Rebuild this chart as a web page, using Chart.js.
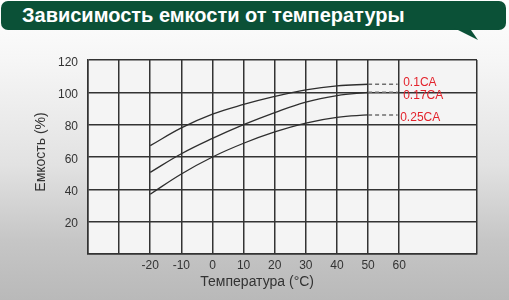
<!DOCTYPE html>
<html>
<head>
<meta charset="utf-8">
<script src="https://cdn.jsdelivr.net/npm/chart.js@4.4.1/dist/chart.umd.min.js"></script>
<style>
  html, body { margin: 0; padding: 0; }
  body {
    width: 509px; height: 300px; overflow: hidden; position: relative;
    background: linear-gradient(to bottom, #ffffff 0%, #f6f6f6 20%, #e2e2e2 55%, #c6c6c6 80%, #b9b9b9 100%);
    font-family: Arial, "Liberation Sans", sans-serif;
  }
  .banner {
    position: absolute; left: 1px; top: 1px; width: 505px; height: 29px;
    background: #0b5137; border-radius: 7px; z-index: 2;
  }
  .banner h1 {
    margin: 0; padding-left: 21px; color: #fff; font-size: 20px; font-weight: bold;
    line-height: 29px; white-space: nowrap;
  }
  .tail {
    position: absolute; left: 454px; top: 28px; width: 24px; height: 12px;
    background: #0b5137; clip-path: polygon(0 0, 65% 0, 100% 100%); z-index: 2;
  }
  #wrap { position: absolute; left: 0; top: 0; width: 509px; height: 300px; }
</style>
</head>
<body>
<div class="banner"><h1>Зависимость емкости от температуры</h1></div>
<div class="tail"></div>
<div id="wrap"><canvas id="myChart" width="509" height="300"></canvas></div>
<script>
// данные
const temps = [-20, -10, 0, 10, 20, 30, 40, 50];
const cap01 = [67, 78, 86.5, 92.5, 97.5, 101.5, 104, 105];
const cap017 = [50.5, 62, 71.5, 80, 87.5, 94, 98, 100];
const cap025 = [37, 49.5, 60, 68.5, 75.5, 81, 84.5, 86];
const extEnd = 59.5; // конец пунктирных хвостов
const seriesLabels = ['0.1CA', '0.17CA', '0.25CA'];
const xTicks = [-40, -30, -20, -10, 0, 10, 20, 30, 40, 50, 60, 85];
const xLabelTicks = [-20, -10, 0, 10, 20, 30, 40, 50, 60];
const yTitle = 'Емкость (%)';
const xTitle = 'Температура (°C)';

const curves = [cap01, cap017, cap025];

const toPoints = (arr) => temps.map((t, i) => ({ x: t, y: arr[i] }));

var datasets = [];
curves.forEach(function(c) {
  datasets.push({
    data: toPoints(c),
    borderColor: '#2e2e2e',
    borderWidth: 1.3,
    pointRadius: 0,
    tension: 0.4,
    fill: false
  });
});
curves.forEach(function(c) {
  var last = c[c.length - 1];
  datasets.push({
    data: [{ x: temps[temps.length - 1], y: last }, { x: extEnd, y: last }],
    borderColor: '#6e6e6e',
    borderWidth: 1.5,
    borderDash: [4, 3],
    pointRadius: 0,
    fill: false
  });
});

// фон области графика, подписи осей и серий
const decor = {
  id: 'decor',
  beforeDraw(chart) {
    const { ctx, chartArea: a } = chart;
    ctx.save();
    ctx.fillStyle = '#f4f4f4';
    ctx.fillRect(a.left, a.top, a.right - a.left, a.bottom - a.top);
    ctx.restore();
  },
  afterDraw(chart) {
    const { ctx, chartArea: a, scales } = chart;
    ctx.save();
    ctx.fillStyle = '#333';
    ctx.font = '14px Arial, "Liberation Sans", sans-serif';
    ctx.textAlign = 'center';
    ctx.textBaseline = 'middle';
    ctx.fillText(xTitle, scales.x.getPixelForValue(15) - 2, 282);
    ctx.translate(41, (a.top + a.bottom) / 2 - 5);
    ctx.rotate(-Math.PI / 2);
    ctx.fillText(yTitle, 0, 0);
    ctx.restore();

    ctx.save();
    ctx.fillStyle = '#e3232c';
    ctx.font = '12px Arial, "Liberation Sans", sans-serif';
    ctx.textAlign = 'left';
    ctx.textBaseline = 'middle';
    const dx = [4, 4, 1];
    const dy = [-1.5, 3.5, 2.5];
    curves.forEach(function(c, i) {
      const x = scales.x.getPixelForValue(60) + dx[i];
      const y = scales.y.getPixelForValue(c[c.length - 1]) + dy[i];
      ctx.fillText(seriesLabels[i], x, y);
    });
    ctx.restore();
  }
};

new Chart(document.getElementById('myChart').getContext('2d'), {
  type: 'line',
  data: { datasets: datasets },
  plugins: [decor],
  options: {
    responsive: false,
    animation: false,
    devicePixelRatio: 1,
    layout: { padding: { top: 60, right: 32, bottom: 0, left: 0 } },
    plugins: { legend: { display: false }, tooltip: { enabled: false } },
    scales: {
      x: {
        type: 'linear',
        min: -40,
        max: 85,
        afterBuildTicks: (axis) => { axis.ticks = xTicks.map(v => ({ value: v })); },
        afterFit: (s) => { s.height = 46; },
        grid: { color: '#333', lineWidth: 1.5, drawTicks: false },
        border: { color: '#333', width: 1.5 },
        ticks: {
          color: '#333',
          font: { size: 12, family: 'Arial, "Liberation Sans", sans-serif' },
          padding: 4,
          maxRotation: 0,
          autoSkip: false,
          callback: (v) => xLabelTicks.includes(v) ? String(v) : ''
        }
      },
      y: {
        min: 0,
        max: 120,
        afterFit: (s) => { s.width = 88; },
        grid: { color: '#333', lineWidth: 1.5, drawTicks: false },
        border: { color: '#333', width: 1.5 },
        ticks: {
          stepSize: 20,
          color: '#333',
          font: { size: 12, family: 'Arial, "Liberation Sans", sans-serif' },
          padding: 10,
          labelOffset: 2.5,
          callback: (v) => v === 0 ? '' : String(v)
        }
      }
    }
  }
});
</script>
</body>
</html>
